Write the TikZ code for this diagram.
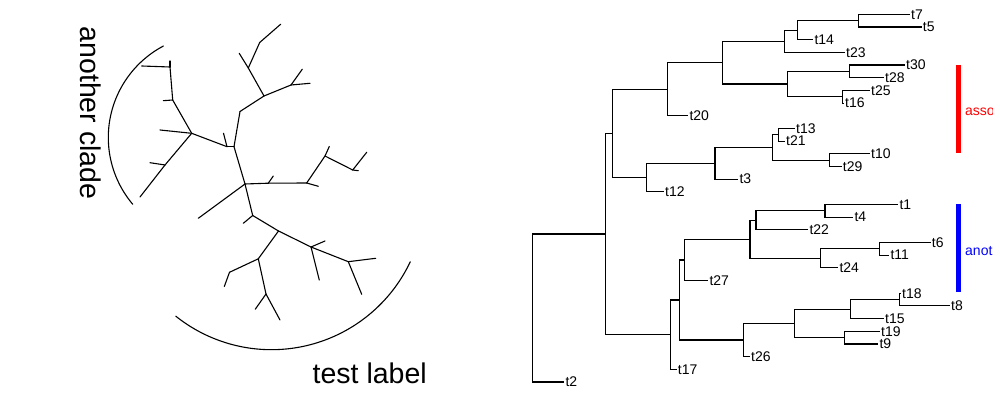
\documentclass[tikz,border=0pt]{standalone}
\usepackage{fontspec}
\setmainfont{Liberation Sans}
\usepackage{tikz}
\tikzstyle{branch}=[line width=0.55pt,line cap=round]
\tikzstyle{tiplabel}=[anchor=west,inner xsep=0.4pt,inner ysep=0pt,
                      font=\fontsize{7}{8}\selectfont]
\tikzstyle{bigtext}=[inner sep=0pt,font=\fontsize{14.25}{16}\selectfont]
\tikzstyle{cladebar}=[line width=2.5pt]
\tikzstyle{cladetext}=[anchor=west,inner sep=0pt,font=\fontsize{7}{8}\selectfont]

\begin{document}
\begin{tikzpicture}[x=0.5pt,y=-0.5pt]
    \useasboundingbox (0,0) rectangle (1000,400);
    \newcommand{\tipdy}{12.68}
    % left panel: unrooted tree
    \coordinate (uJ) at (170,67);
    \coordinate (uI) at (172.7,100);
    \coordinate (uB) at (191.7,133.3);
    \coordinate (uK) at (165,165);
    \coordinate (uA1) at (227,146.7);
    \coordinate (uA2) at (234,146.7);
    \coordinate (uC) at (240,111.5);
    \coordinate (uE) at (264,96);
    \coordinate (uF) at (248.3,68);
    \coordinate (uG) at (259.7,42.5);
    \coordinate (uH) at (291,85);
    \coordinate (uD) at (245,184);
    \coordinate (uL0) at (268.3,183.2);
    \coordinate (uL) at (306.7,183);
    \coordinate (uM) at (325,156);
    \coordinate (uN) at (352.7,170);
    \coordinate (uP) at (252.7,215.5);
    \coordinate (uQ) at (278.5,231);
    \coordinate (uR) at (311,247);
    \coordinate (uS) at (348.3,261.7);
    \coordinate (uT) at (258.3,258.8);
    \coordinate (uU) at (229.5,272.3);
    \coordinate (uV) at (266,294);
    \foreach \n/\x/\y in {1/141.7/66, 2/170/61, 3/163.3/100.7, 4/160/130,
        5/150/162.7, 6/140/197, 7/223.5/133.3, 8/239.2/53.3, 9/280.7/24.2,
        10/310/83.3, 11/302.3/69.2, 12/198.3/218.3, 13/273.3/176,
        14/318.3/186.3, 15/329.3/146.5, 16/358.3/170.7, 17/366.7/152.3,
        18/243.3/223.3, 19/325/241, 20/319.3/280, 21/375.7/258.3,
        22/361.7/294.3, 23/224.3/286.5, 24/255.2/309.3, 25/280/320}
        \coordinate (lt\n) at (\x,\y);
    \foreach \a/\b in {uJ/lt1, uJ/lt2, uJ/uI, uI/lt3, uI/uB, uB/lt4, uB/uK,
        uK/lt5, uK/lt6, uB/uA1, uA1/lt7, uA1/uA2, uA2/uC, uC/uE, uE/uF,
        uF/lt8, uF/uG, uG/lt9, uE/uH, uH/lt10, uH/lt11, uA2/uD, uD/lt12,
        uD/uL0, uL0/lt13, uL0/uL, uL/lt14, uL/uM, uM/lt15, uM/uN, uN/lt16,
        uN/lt17, uD/uP, uP/lt18, uP/uQ, uQ/uR, uR/lt19, uR/lt20, uR/uS,
        uS/lt21, uS/lt22, uQ/uT, uT/uU, uU/lt23, uT/uV, uV/lt24, uV/lt25}
        \draw[branch] (\a) -- (\b);
    % clade arcs
    \draw[branch] plot[domain=139.8:242.1,samples=40,smooth]
        ({211.8+103.5*cos(\x)},{137.5+103.5*sin(\x)});
    \draw[branch] plot[domain=25.3:128.6,samples=50,smooth]
        ({271.5+153.5*cos(\x)},{196.2+153.5*sin(\x)});
    \node (lclade) at (91,113) [bigtext,rotate=-90] {another clade};
    \node (ltest) at (312.3,383.3) [bigtext,anchor=base west] {test label};
    % right panel: phylogram
    \foreach \t/\x/\i in {t7/910/0, t5/921.7/1, t14/813.3/2, t23/845/3,
        t30/905/4, t28/884/5, t25/870/6, t16/844/7, t20/688.3/8, t13/795/9,
        t21/785/10, t10/870/11, t29/841.7/12, t3/738.3/13, t12/664/14,
        t1/898.3/15, t4/853.3/16, t22/808.3/17, t6/930.7/18, t11/889.3/19,
        t24/838.3/20, t27/708.3/21, t18/901/22, t8/950/23, t15/884/24,
        t19/880/25, t9/878.3/26, t26/750/27, t17/676.7/28, t2/564.3/29}
        \node (\t) at (\x,{14.3+\tipdy*\i}) [tiplabel] {\t};
    \coordinate (root) at (532.3,308.03);
    \coordinate (n1) at (605.7,234.03);
    \coordinate (nA) at (612.3,133.38);
    \coordinate (nA1) at (667.3,89.2);
    \coordinate (nC) at (722.3,62.65);
    \coordinate (n23) at (784.3,41.25);
    \coordinate (n14) at (797.3,30.15);
    \coordinate (n75) at (858.3,20.64);
    \coordinate (nC2) at (787.3,84.04);
    \coordinate (n3028) at (849.3,71.36);
    \coordinate (n2516) at (842.7,96.72);
    \coordinate (n12) at (646.7,177.56);
    \coordinate (n3) at (715,163.29);
    \coordinate (n1329) at (772.3,147.44);
    \coordinate (n1321) at (778.3,134.76);
    \coordinate (n1029) at (829.3,160.12);
    \coordinate (n17) at (670.7,334.67);
    \coordinate (nB1) at (679.3,300);
    \coordinate (n27) at (684.3,259.98);
    \coordinate (nB11) at (750,239.37);
    \coordinate (n22) at (756,220.35);
    \coordinate (n14b) at (825,210.84);
    \coordinate (n24) at (820.3,258.39);
    \coordinate (n611) at (879.3,248.88);
    \coordinate (n26) at (743.3,340.02);
    \coordinate (nB21) at (794.3,323.38);
    \coordinate (n15) at (850.7,309.11);
    \coordinate (n188) at (899.3,299.6);
    \coordinate (n199) at (844.7,337.64);
    \foreach \a/\b in {root/t2, root/n1, n1/nA, n1/n17, nA/nA1, nA/n12,
        nA1/nC, nA1/t20, nC/n23, nC/nC2, n23/n14, n23/t23, n14/n75, n14/t14,
        n75/t7, n75/t5, nC2/n3028, nC2/n2516, n3028/t30, n3028/t28,
        n2516/t25, n2516/t16, n12/n3, n12/t12, n3/n1329, n3/t3,
        n1329/n1321, n1329/n1029, n1321/t13, n1321/t21, n1029/t10,
        n1029/t29, n17/nB1, n17/t17, nB1/n27, nB1/n26, n27/nB11, n27/t27,
        nB11/n22, nB11/n24, n22/n14b, n22/t22, n14b/t1, n14b/t4, n24/n611,
        n24/t24, n611/t6, n611/t11, n26/nB21, n26/t26, nB21/n15, nB21/n199,
        n15/n188, n15/t15, n188/t18, n188/t8, n199/t19, n199/t9}
        \draw[branch,line cap=butt] (\a) |- (\b);
    % clade bars
    \draw[cladebar,red] (958.5,65) -- (958.5,152.7);
    \draw[cladebar,blue] (958.5,204) -- (958.5,291.7);
    \begin{scope}
        \clip (940,0) rectangle (992.4,400);
        \node (rlabel) at (964.8,111.7) [cladetext,text=red] {asso};
        \node (blabel) at (964.8,250.7) [cladetext,text=blue] {anot};
    \end{scope}
\end{tikzpicture}
\end{document}
